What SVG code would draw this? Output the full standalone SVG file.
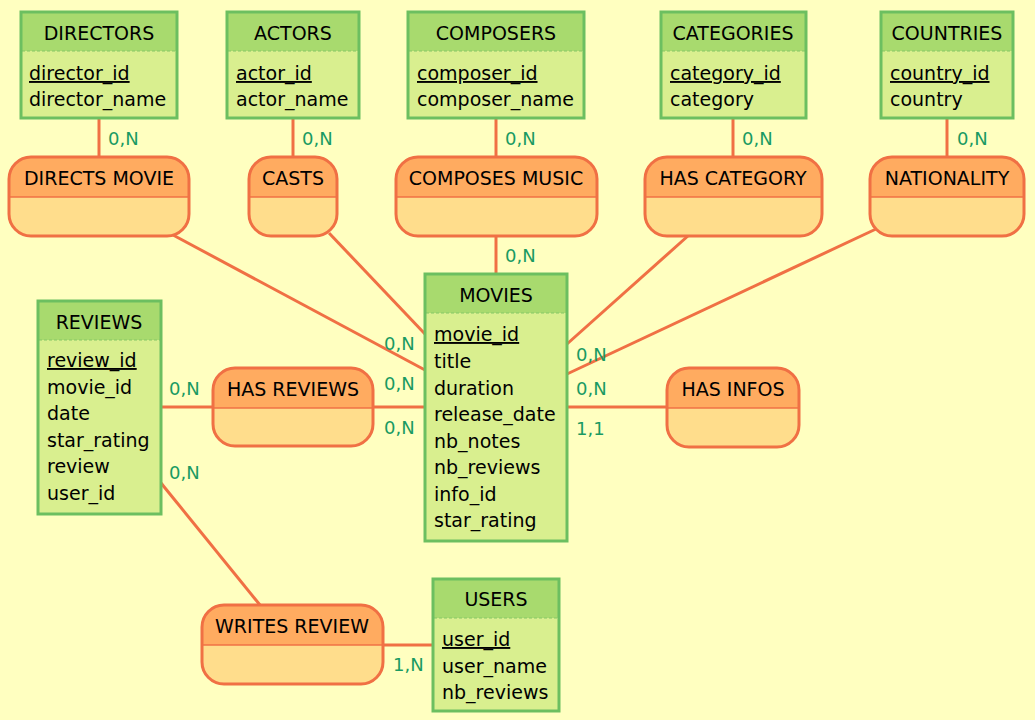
<svg xmlns="http://www.w3.org/2000/svg" width="1035" height="720" viewBox="0 0 1035 720">
<style>
text{font-family:"DejaVu Sans","Noto Sans",sans-serif;fill:#000}
.t{font-size:19px}
.c{text-anchor:middle}
.k{text-decoration:underline}
.card{font-size:18px;fill:#1a9a62}
.eh{fill:#a8da6e}
.eb{fill:#d9ef8f}
.eo{fill:none;stroke:#6cbf60;stroke-width:3}
.ed{stroke:#86c766;stroke-width:1.2;stroke-dasharray:3 2}
.rh{fill:#ffab60}
.rb{fill:#ffdd8c}
.ro{fill:none;stroke:#f07044;stroke-width:3}
.rd{stroke:#f07044;stroke-width:1.5}
.ln{stroke:#f07044;stroke-width:3;fill:none}
</style>
<defs>
<clipPath id="cDM"><rect x="9" y="157" width="180" height="79" rx="22"/></clipPath>
<clipPath id="cCA"><rect x="249" y="157" width="88" height="79" rx="22"/></clipPath>
<clipPath id="cCM"><rect x="396" y="157" width="201" height="79" rx="22"/></clipPath>
<clipPath id="cHC"><rect x="645" y="157" width="177" height="79" rx="22"/></clipPath>
<clipPath id="cNA"><rect x="870" y="157" width="154" height="79" rx="22"/></clipPath>
<clipPath id="cHR"><rect x="213" y="368" width="160" height="78" rx="22"/></clipPath>
<clipPath id="cHI"><rect x="667" y="368" width="132" height="79" rx="22"/></clipPath>
<clipPath id="cWR"><rect x="202" y="605" width="181" height="79" rx="22"/></clipPath>
</defs>
<rect x="0" y="0" width="1035" height="720" fill="#ffffc0"/>

<g id="connectors">
<line class="ln" x1="99" y1="118" x2="99" y2="157"/>
<line class="ln" x1="293" y1="118" x2="293" y2="157"/>
<line class="ln" x1="496" y1="118" x2="496" y2="157"/>
<line class="ln" x1="733" y1="118" x2="733" y2="157"/>
<line class="ln" x1="947" y1="118" x2="947" y2="157"/>
<line class="ln" x1="496" y1="236" x2="496" y2="274"/>
<line class="ln" x1="173" y1="235" x2="425" y2="370"/>
<line class="ln" x1="329" y1="233" x2="425" y2="334"/>
<line class="ln" x1="689" y1="235" x2="567" y2="344"/>
<line class="ln" x1="876" y1="229" x2="567" y2="374"/>
<line class="ln" x1="161" y1="407" x2="213" y2="407"/>
<line class="ln" x1="373" y1="407" x2="425" y2="407"/>
<line class="ln" x1="567" y1="407" x2="667" y2="407"/>
<line class="ln" x1="161" y1="483" x2="260" y2="605"/>
<line class="ln" x1="383" y1="645" x2="433" y2="645"/>
<text class="card" x="108" y="145">0,N</text>
<text class="card" x="302" y="145">0,N</text>
<text class="card" x="505" y="145">0,N</text>
<text class="card" x="742" y="145">0,N</text>
<text class="card" x="957" y="145">0,N</text>
<text class="card" x="505" y="262">0,N</text>
<text class="card" x="384" y="350">0,N</text>
<text class="card" x="384" y="390">0,N</text>
<text class="card" x="384" y="434">0,N</text>
<text class="card" x="576" y="361">0,N</text>
<text class="card" x="576" y="395">0,N</text>
<text class="card" x="576" y="435">1,1</text>
<text class="card" x="169" y="395">0,N</text>
<text class="card" x="169" y="479">0,N</text>
<text class="card" x="393" y="671">1,N</text>
</g>

<g id="directors">
<rect class="eb" x="21" y="12" width="156" height="106"/>
<rect class="eh" x="21" y="12" width="156" height="39"/>
<line class="ed" x1="22" y1="51" x2="176" y2="51"/>
<rect class="eo" x="21" y="12" width="156" height="106"/>
<text class="t c" x="99" y="40">DIRECTORS</text>
<text class="t k" x="29" y="80">director_id</text>
<text class="t" x="29" y="106">director_name</text>
</g>

<g id="actors">
<rect class="eb" x="227" y="12" width="132" height="106"/>
<rect class="eh" x="227" y="12" width="132" height="39"/>
<line class="ed" x1="228" y1="51" x2="358" y2="51"/>
<rect class="eo" x="227" y="12" width="132" height="106"/>
<text class="t c" x="293" y="40">ACTORS</text>
<text class="t k" x="236" y="80">actor_id</text>
<text class="t" x="236" y="106">actor_name</text>
</g>

<g id="composers">
<rect class="eb" x="408" y="12" width="176" height="106"/>
<rect class="eh" x="408" y="12" width="176" height="39"/>
<line class="ed" x1="409" y1="51" x2="583" y2="51"/>
<rect class="eo" x="408" y="12" width="176" height="106"/>
<text class="t c" x="496" y="40">COMPOSERS</text>
<text class="t k" x="417" y="80">composer_id</text>
<text class="t" x="417" y="106">composer_name</text>
</g>

<g id="categories">
<rect class="eb" x="661" y="12" width="145" height="106"/>
<rect class="eh" x="661" y="12" width="145" height="39"/>
<line class="ed" x1="662" y1="51" x2="805" y2="51"/>
<rect class="eo" x="661" y="12" width="145" height="106"/>
<text class="t c" x="733" y="40">CATEGORIES</text>
<text class="t k" x="670" y="80">category_id</text>
<text class="t" x="670" y="106">category</text>
</g>

<g id="countries">
<rect class="eb" x="881" y="12" width="132" height="106"/>
<rect class="eh" x="881" y="12" width="132" height="39"/>
<line class="ed" x1="882" y1="51" x2="1012" y2="51"/>
<rect class="eo" x="881" y="12" width="132" height="106"/>
<text class="t c" x="947" y="40">COUNTRIES</text>
<text class="t k" x="890" y="80">country_id</text>
<text class="t" x="890" y="106">country</text>
</g>

<g id="movies">
<rect class="eb" x="425" y="274" width="142" height="267"/>
<rect class="eh" x="425" y="274" width="142" height="39"/>
<line class="ed" x1="426" y1="313" x2="566" y2="313"/>
<rect class="eo" x="425" y="274" width="142" height="267"/>
<text class="t c" x="496" y="302">MOVIES</text>
<text class="t k" x="434" y="341">movie_id</text>
<text class="t" x="434" y="368">title</text>
<text class="t" x="434" y="395">duration</text>
<text class="t" x="434" y="421">release_date</text>
<text class="t" x="434" y="448">nb_notes</text>
<text class="t" x="434" y="474">nb_reviews</text>
<text class="t" x="434" y="501">info_id</text>
<text class="t" x="434" y="527">star_rating</text>
</g>

<g id="reviews">
<rect class="eb" x="38" y="301" width="123" height="213"/>
<rect class="eh" x="38" y="301" width="123" height="39"/>
<line class="ed" x1="39" y1="340" x2="160" y2="340"/>
<rect class="eo" x="38" y="301" width="123" height="213"/>
<text class="t c" x="99" y="329">REVIEWS</text>
<text class="t k" x="47" y="367">review_id</text>
<text class="t" x="47" y="394">movie_id</text>
<text class="t" x="47" y="420">date</text>
<text class="t" x="47" y="447">star_rating</text>
<text class="t" x="47" y="473">review</text>
<text class="t" x="47" y="500">user_id</text>
</g>

<g id="users">
<rect class="eb" x="433" y="579" width="126" height="132"/>
<rect class="eh" x="433" y="579" width="126" height="39"/>
<line class="ed" x1="434" y1="618" x2="558" y2="618"/>
<rect class="eo" x="433" y="579" width="126" height="132"/>
<text class="t c" x="496" y="606">USERS</text>
<text class="t k" x="442" y="646">user_id</text>
<text class="t" x="442" y="673">user_name</text>
<text class="t" x="442" y="699">nb_reviews</text>
</g>

<g id="directs_movie">
<g clip-path="url(#cDM)"><rect class="rb" x="9" y="157" width="180" height="79"/><rect class="rh" x="9" y="157" width="180" height="40"/></g>
<line class="rd" x1="10" y1="197" x2="188" y2="197"/>
<rect class="ro" x="9" y="157" width="180" height="79" rx="22"/>
<text class="t c" x="99" y="185">DIRECTS MOVIE</text>
</g>

<g id="casts">
<g clip-path="url(#cCA)"><rect class="rb" x="249" y="157" width="88" height="79"/><rect class="rh" x="249" y="157" width="88" height="40"/></g>
<line class="rd" x1="250" y1="197" x2="336" y2="197"/>
<rect class="ro" x="249" y="157" width="88" height="79" rx="22"/>
<text class="t c" x="293" y="185">CASTS</text>
</g>

<g id="composes_music">
<g clip-path="url(#cCM)"><rect class="rb" x="396" y="157" width="201" height="79"/><rect class="rh" x="396" y="157" width="201" height="40"/></g>
<line class="rd" x1="397" y1="197" x2="596" y2="197"/>
<rect class="ro" x="396" y="157" width="201" height="79" rx="22"/>
<text class="t c" x="496" y="185">COMPOSES MUSIC</text>
</g>

<g id="has_category">
<g clip-path="url(#cHC)"><rect class="rb" x="645" y="157" width="177" height="79"/><rect class="rh" x="645" y="157" width="177" height="40"/></g>
<line class="rd" x1="646" y1="197" x2="821" y2="197"/>
<rect class="ro" x="645" y="157" width="177" height="79" rx="22"/>
<text class="t c" x="733" y="185">HAS CATEGORY</text>
</g>

<g id="nationality">
<g clip-path="url(#cNA)"><rect class="rb" x="870" y="157" width="154" height="79"/><rect class="rh" x="870" y="157" width="154" height="40"/></g>
<line class="rd" x1="871" y1="197" x2="1023" y2="197"/>
<rect class="ro" x="870" y="157" width="154" height="79" rx="22"/>
<text class="t c" x="947" y="185">NATIONALITY</text>
</g>

<g id="has_reviews">
<g clip-path="url(#cHR)"><rect class="rb" x="213" y="368" width="160" height="78"/><rect class="rh" x="213" y="368" width="160" height="40"/></g>
<line class="rd" x1="214" y1="408" x2="372" y2="408"/>
<rect class="ro" x="213" y="368" width="160" height="78" rx="22"/>
<text class="t c" x="293" y="396">HAS REVIEWS</text>
</g>

<g id="has_infos">
<g clip-path="url(#cHI)"><rect class="rb" x="667" y="368" width="132" height="79"/><rect class="rh" x="667" y="368" width="132" height="40"/></g>
<line class="rd" x1="668" y1="408" x2="798" y2="408"/>
<rect class="ro" x="667" y="368" width="132" height="79" rx="22"/>
<text class="t c" x="733" y="396">HAS INFOS</text>
</g>

<g id="writes_review">
<g clip-path="url(#cWR)"><rect class="rb" x="202" y="605" width="181" height="79"/><rect class="rh" x="202" y="605" width="181" height="40"/></g>
<line class="rd" x1="203" y1="645" x2="382" y2="645"/>
<rect class="ro" x="202" y="605" width="181" height="79" rx="22"/>
<text class="t c" x="292" y="633">WRITES REVIEW</text>
</g>
</svg>
